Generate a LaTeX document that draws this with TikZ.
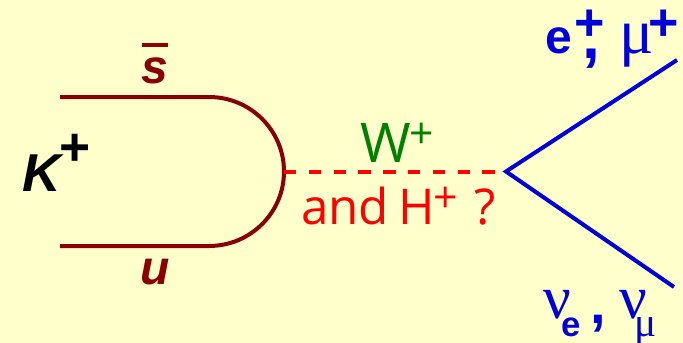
\documentclass[tikz,border=0pt]{standalone}
\usepackage{fontspec}
\setmainfont{Liberation Sans}
\newfontfamily\greekf{Liberation Serif}
\newfontfamily\labf{Open Sans}
\definecolor{bgc}{RGB}{255,255,204}
\definecolor{quark}{RGB}{136,0,0}
\definecolor{lep}{RGB}{0,0,221}
\definecolor{wgreen}{RGB}{0,128,0}
\newcommand{\fs}[1]{\fontsize{#1}{#1}\selectfont}
\tikzset{
  quarkline/.style={draw=quark,line width=3pt},
  lepline/.style={draw=lep,line width=3pt},
  lab/.style={inner sep=0pt,anchor=base west},
}
\begin{document}
\begin{tikzpicture}[x=0.75pt,y=-0.75pt]
\useasboundingbox (0,0) rectangle (683,343);
\fill[bgc] (0,0) rectangle (683,343);
\coordinate (qa) at (60,97);
\coordinate (qb) at (60,246);
\coordinate (vtx1) at (284,171.5);
\coordinate (vtx2) at (506,171.5);
\coordinate (ea) at (677,60);
\coordinate (eb) at (674,287);
\coordinate (bara) at (142,45);
\coordinate (barb) at (168,45);
\draw[quarkline] (qa) -- (209,97) arc[start angle=-90,end angle=90,x radius=75,y radius=74.5] -- (qb);
\draw[draw=red,line width=3pt,dash pattern=on 9.3pt off 9.3pt] (vtx1) -- (vtx2);
\draw[lepline,line join=miter] (ea) -- (vtx2) -- (eb);
\node[lab] (kp) at (22,191) {\fs{40}\bfseries\itshape K};
\node[lab] (kplus) at (59,165) {\fs{40}\bfseries +};
\node[lab,text=quark] (sq) at (141,83) {\fs{36}\bfseries\itshape s};
\draw[draw=quark,line width=3pt] (bara) -- (barb);
\node[lab,text=quark] (uq) at (140,284) {\fs{36}\bfseries\itshape u};
\node[lab,text=wgreen] (w) at (360,162) {\labf\fs{41}W\kern-1pt\raisebox{10pt}{\fs{32}+}};
\node[lab,text=red] (h) at (301,224) {\labf\fs{37}and\kern7pt H\kern-1pt\raisebox{9pt}{\fs{32}+}\kern12pt ?};
\node[lab,text=lep] (e) at (545,53) {\fs{36}\bfseries e\kern2pt\raisebox{9.5pt}{\fs{39}+}\kern-17pt\raisebox{-4pt}{\fs{48},}\kern14.5pt\mdseries\greekf\fs{48}μ\kern-3.75pt\raisebox{9.5pt}{\rmfamily\bfseries\fs{39}+}};
\node[lab,text=lep] (nu) at (543,318) {\greekf\fs{46}ν\kern-7pt\raisebox{-13.5pt}{\rmfamily\bfseries\fs{26}e}\kern7pt\rmfamily\bfseries\raisebox{-4pt}{\fs{42},}\kern10pt\mdseries\greekf\fs{46}ν\kern-9pt\raisebox{-14pt}{\fs{31}μ}};
\end{tikzpicture}
\end{document}
